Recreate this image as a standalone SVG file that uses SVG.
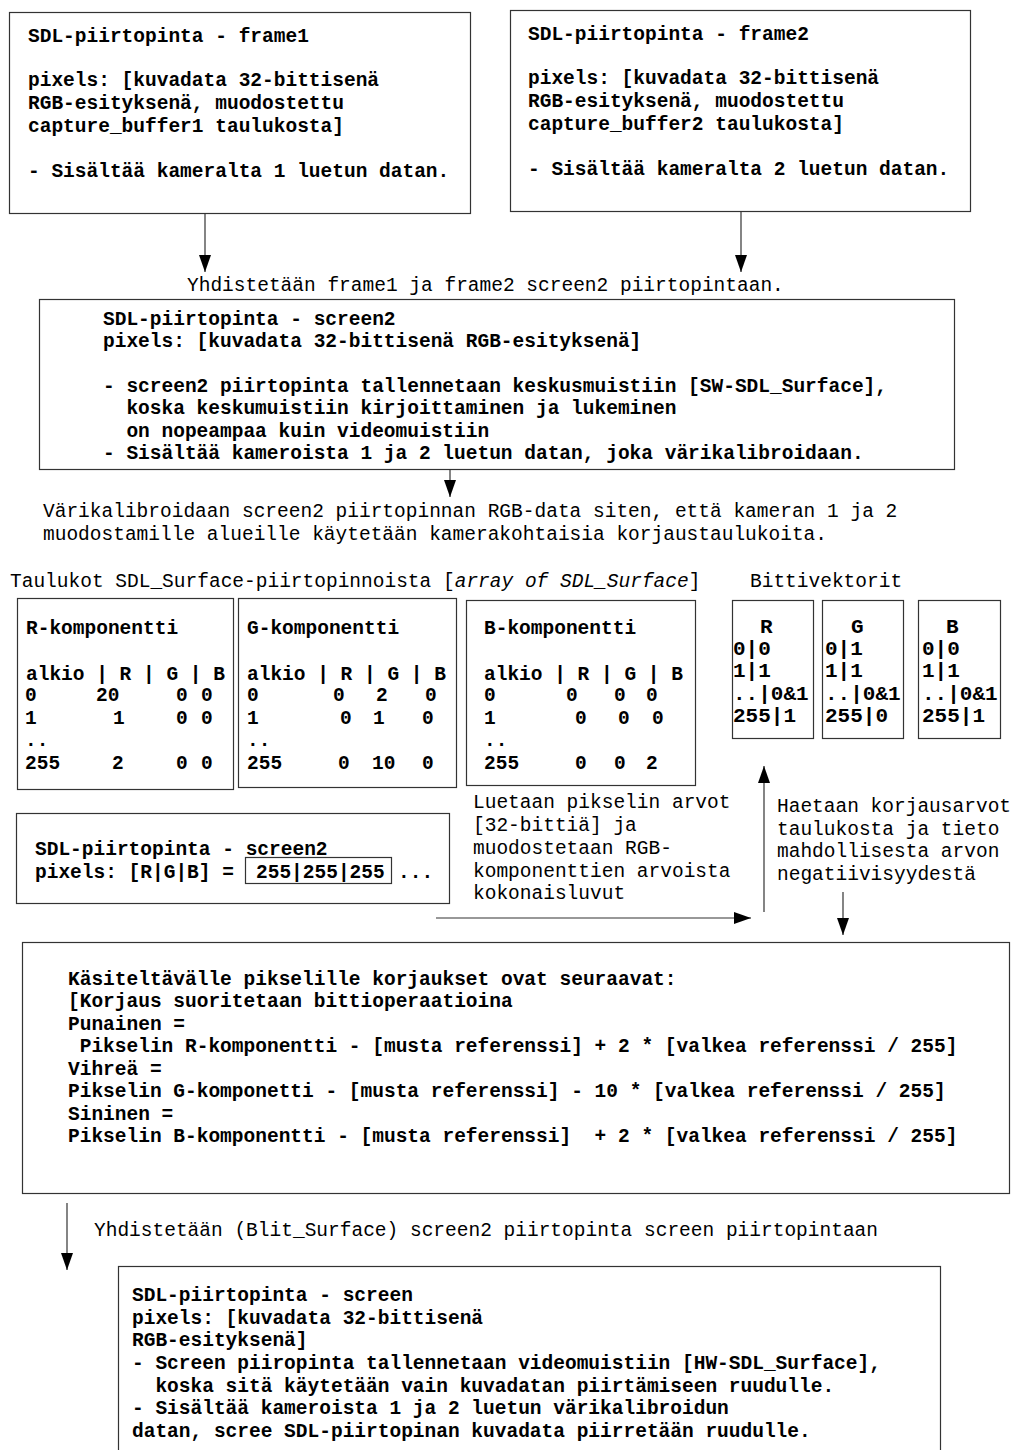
<svg xmlns="http://www.w3.org/2000/svg" width="1013" height="1450" viewBox="0 0 1013 1450" xml:space="preserve">
<style>
  .box { fill: #fff; stroke: #333; stroke-width: 1.2; }
  .t { font-family: "Liberation Mono", "DejaVu Sans Mono", monospace; font-size: 19.5px; fill: #000; white-space: pre; }
  .b { font-weight: bold; }
  .bv { font-size: 21px; }
  .conn line { stroke: #333; stroke-width: 1.2; }
</style>
<defs>
  <marker id="ah" markerUnits="userSpaceOnUse" markerWidth="18" markerHeight="12" refX="17" refY="6" orient="auto">
    <path d="M0,0 L17,6 L0,12 Z" fill="#000"/>
  </marker>
</defs>
<rect width="1013" height="1450" fill="#fff"/>

<g id="frame1">
  <rect class="box" x="9.5" y="12.5" width="461" height="201"/>
  <text class="t b" x="28" y="42">SDL-piirtopinta - frame1</text>
  <text class="t b" x="28" y="86">pixels: [kuvadata 32-bittisenä</text>
  <text class="t b" x="28" y="109">RGB-esityksenä, muodostettu</text>
  <text class="t b" x="28" y="132">capture_buffer1 taulukosta]</text>
  <text class="t b" x="28" y="177">- Sisältää kameralta 1 luetun datan.</text>
</g>

<g id="frame2">
  <rect class="box" x="510.5" y="10.5" width="460" height="201"/>
  <text class="t b" x="528" y="40">SDL-piirtopinta - frame2</text>
  <text class="t b" x="528" y="84">pixels: [kuvadata 32-bittisenä</text>
  <text class="t b" x="528" y="107">RGB-esityksenä, muodostettu</text>
  <text class="t b" x="528" y="130">capture_buffer2 taulukosta]</text>
  <text class="t b" x="528" y="175">- Sisältää kameralta 2 luetun datan.</text>
</g>

<g id="screen2">
  <rect class="box" x="39.5" y="299.5" width="915" height="170"/>
  <text class="t b" x="103" y="325">SDL-piirtopinta - screen2</text>
  <text class="t b" x="103" y="347">pixels: [kuvadata 32-bittisenä RGB-esityksenä]</text>
  <text class="t b" x="103" y="392">- screen2 piirtopinta tallennetaan keskusmuistiin [SW-SDL_Surface],</text>
  <text class="t b" x="103" y="414">  koska keskumuistiin kirjoittaminen ja lukeminen</text>
  <text class="t b" x="103" y="437">  on nopeampaa kuin videomuistiin</text>
  <text class="t b" x="103" y="459">- Sisältää kameroista 1 ja 2 luetun datan, joka värikalibroidaan.</text>
</g>

<g id="labels">
  <text class="t" x="187" y="291">Yhdistetään frame1 ja frame2 screen2 piirtopintaan.</text>
  <text class="t" x="43" y="517">Värikalibroidaan screen2 piirtopinnan RGB-data siten, että kameran 1 ja 2</text>
  <text class="t" x="43" y="540">muodostamille alueille käytetään kamerakohtaisia korjaustaulukoita.</text>
  <text class="t" x="10" y="587">Taulukot SDL_Surface-piirtopinnoista [<tspan font-style="italic">array of SDL_Surface</tspan>]</text>
  <text class="t" x="750" y="587">Bittivektorit</text>
  <text class="t" x="473" y="808">Luetaan pikselin arvot</text>
  <text class="t" x="473" y="831">[32-bittiä] ja</text>
  <text class="t" x="473" y="854">muodostetaan RGB-</text>
  <text class="t" x="473" y="877">komponenttien arvoista</text>
  <text class="t" x="473" y="899">kokonaisluvut</text>
  <text class="t" x="777" y="812">Haetaan korjausarvot</text>
  <text class="t" x="777" y="835">taulukosta ja tieto</text>
  <text class="t" x="777" y="857">mahdollisesta arvon</text>
  <text class="t" x="777" y="880">negatiivisyydestä</text>
  <text class="t" x="94" y="1236">Yhdistetään (Blit_Surface) screen2 piirtopinta screen piirtopintaan</text>
</g>

<g id="table-r">
  <rect class="box" x="17.5" y="598.5" width="216" height="191"/>
  <text class="t b" x="26" y="634">R-komponentti</text>
  <text class="t b" x="26" y="680">alkio | R | G | B</text>
  <text class="t b" y="701"><tspan x="25">0</tspan><tspan x="96">20</tspan><tspan x="176">0</tspan><tspan x="201">0</tspan></text>
  <text class="t b" y="724"><tspan x="25">1</tspan><tspan x="113">1</tspan><tspan x="176">0</tspan><tspan x="201">0</tspan></text>
  <text class="t b" x="25" y="746">..</text>
  <text class="t b" y="769"><tspan x="25">255</tspan><tspan x="112">2</tspan><tspan x="176">0</tspan><tspan x="201">0</tspan></text>
</g>

<g id="table-g">
  <rect class="box" x="238.5" y="598.5" width="218" height="189"/>
  <text class="t b" x="247" y="634">G-komponentti</text>
  <text class="t b" x="247" y="680">alkio | R | G | B</text>
  <text class="t b" y="701"><tspan x="247">0</tspan><tspan x="333">0</tspan><tspan x="376">2</tspan><tspan x="425">0</tspan></text>
  <text class="t b" y="724"><tspan x="247">1</tspan><tspan x="340">0</tspan><tspan x="373">1</tspan><tspan x="422">0</tspan></text>
  <text class="t b" x="247" y="746">..</text>
  <text class="t b" y="769"><tspan x="247">255</tspan><tspan x="338">0</tspan><tspan x="372">10</tspan><tspan x="422">0</tspan></text>
</g>

<g id="table-b">
  <rect class="box" x="466.5" y="600.5" width="229" height="185"/>
  <text class="t b" x="484" y="634">B-komponentti</text>
  <text class="t b" x="484" y="680">alkio | R | G | B</text>
  <text class="t b" y="701"><tspan x="484">0</tspan><tspan x="566">0</tspan><tspan x="614">0</tspan><tspan x="646">0</tspan></text>
  <text class="t b" y="724"><tspan x="484">1</tspan><tspan x="575">0</tspan><tspan x="618">0</tspan><tspan x="652">0</tspan></text>
  <text class="t b" x="484" y="746">..</text>
  <text class="t b" y="769"><tspan x="484">255</tspan><tspan x="575">0</tspan><tspan x="614">0</tspan><tspan x="646">2</tspan></text>
</g>

<g id="bitvec-r">
  <rect class="box" x="732.5" y="600.5" width="81" height="138"/>
  <text class="t b bv" x="760" y="633">R</text>
  <text class="t b bv" x="733" y="655">0|0</text>
  <text class="t b bv" x="733" y="677">1|1</text>
  <text class="t b bv" x="733" y="700">..|0&amp;1</text>
  <text class="t b bv" x="733" y="722">255|1</text>
</g>

<g id="bitvec-g">
  <rect class="box" x="822.5" y="600.5" width="81" height="138"/>
  <text class="t b bv" x="851" y="633">G</text>
  <text class="t b bv" x="825" y="655">0|1</text>
  <text class="t b bv" x="825" y="677">1|1</text>
  <text class="t b bv" x="825" y="700">..|0&amp;1</text>
  <text class="t b bv" x="825" y="722">255|0</text>
</g>

<g id="bitvec-b">
  <rect class="box" x="918.5" y="600.5" width="82" height="138"/>
  <text class="t b bv" x="946" y="633">B</text>
  <text class="t b bv" x="922" y="655">0|0</text>
  <text class="t b bv" x="922" y="677">1|1</text>
  <text class="t b bv" x="922" y="700">..|0&amp;1</text>
  <text class="t b bv" x="922" y="722">255|1</text>
</g>

<g id="screen2-pixel">
  <rect class="box" x="16.5" y="813.5" width="433" height="90"/>
  <text class="t b" x="35" y="855">SDL-piirtopinta - screen2</text>
  <text class="t b" x="35" y="878">pixels: [R|G|B] = </text>
  <rect class="box" x="245.5" y="857.5" width="146" height="26"/>
  <text class="t b" x="256" y="878">255|255|255</text>
  <text class="t b" x="398" y="878">...</text>
</g>

<g id="correction">
  <rect class="box" x="22.5" y="942.5" width="987" height="251"/>
  <text class="t b" x="68" y="985">Käsiteltävälle pikselille korjaukset ovat seuraavat:</text>
  <text class="t b" x="68" y="1007">[Korjaus suoritetaan bittioperaatioina</text>
  <text class="t b" x="68" y="1030">Punainen =</text>
  <text class="t b" x="68" y="1052"> Pikselin R-komponentti - [musta referenssi] + 2 * [valkea referenssi / 255]</text>
  <text class="t b" x="68" y="1075">Vihreä =</text>
  <text class="t b" x="68" y="1097">Pikselin G-komponetti - [musta referenssi] - 10 * [valkea referenssi / 255]</text>
  <text class="t b" x="68" y="1120">Sininen =</text>
  <text class="t b" x="68" y="1142">Pikselin B-komponentti - [musta referenssi]  + 2 * [valkea referenssi / 255]</text>
</g>

<g id="screen">
  <rect class="box" x="118.5" y="1266.5" width="822" height="200"/>
  <text class="t b" x="132" y="1301">SDL-piirtopinta - screen</text>
  <text class="t b" x="132" y="1324">pixels: [kuvadata 32-bittisenä</text>
  <text class="t b" x="132" y="1346">RGB-esityksenä]</text>
  <text class="t b" x="132" y="1369">- Screen piiropinta tallennetaan videomuistiin [HW-SDL_Surface],</text>
  <text class="t b" x="132" y="1392">  koska sitä käytetään vain kuvadatan piirtämiseen ruudulle.</text>
  <text class="t b" x="132" y="1414">- Sisältää kameroista 1 ja 2 luetun värikalibroidun</text>
  <text class="t b" x="132" y="1437">datan, scree SDL-piirtopinan kuvadata piirretään ruudulle.</text>
</g>

<g id="connectors" class="conn">
  <line x1="205" y1="213" x2="205" y2="272" marker-end="url(#ah)"/>
  <line x1="741" y1="211" x2="741" y2="272" marker-end="url(#ah)"/>
  <line x1="450" y1="469" x2="450" y2="497" marker-end="url(#ah)"/>
  <line x1="436" y1="918" x2="751" y2="918" marker-end="url(#ah)"/>
  <line x1="764" y1="912" x2="764" y2="766" marker-end="url(#ah)"/>
  <line x1="843" y1="892" x2="843" y2="935" marker-end="url(#ah)"/>
  <line x1="67" y1="1203" x2="67" y2="1270" marker-end="url(#ah)"/>
</g>
</svg>
